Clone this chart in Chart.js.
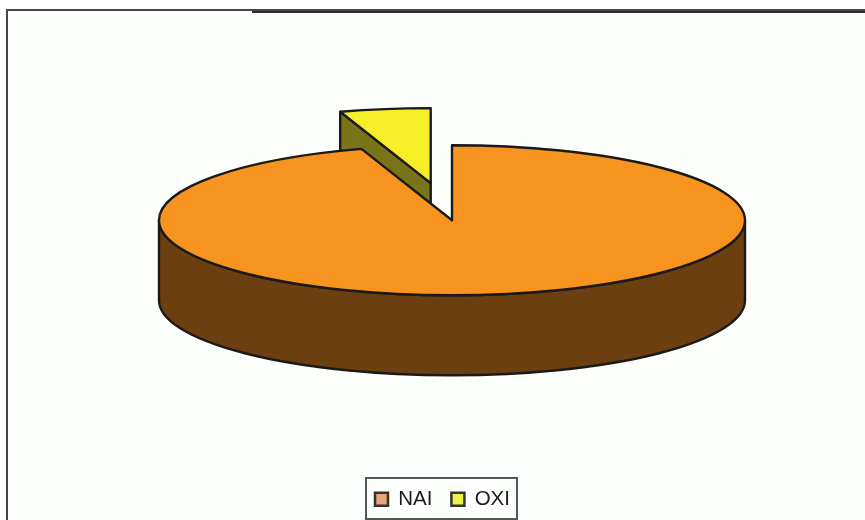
<!DOCTYPE html>
<html>
<head>
<meta charset="utf-8">
<style>html,body{margin:0;padding:0;background:#fff}canvas{display:block}</style>
<script src="https://cdn.jsdelivr.net/npm/chart.js@4/dist/chart.umd.min.js"></script>
</head>
<body>
<canvas id="c" width="865" height="520"></canvas>
<script>
const categories = ['NAI', 'OXI'];
const shares = [95, 5];
const topColors = ['#f7941f', '#f7ee2a'];
const sideColors = ['#6c3f10', '#7a7418'];
const legendColors = ['#e8a577', '#eef04c'];

const TILT = 75 / 293, DEPTH = 80, EXPLODE = [0, 136], EXPLODE_LIFT = 1.08, INK = '#1c1a18';

const pie3d = {
  id: 'pie3d',
  afterLayout(chart) {
    const l = chart.legend, p = chart.options.plugins.legend.labels.padding;
    l.left = 375 - p; l.right = 865; l.top = 489 - p; l.bottom = 519;
  },
  beforeDraw(chart) {
    const c = chart.ctx;
    c.save();
    c.fillStyle = '#fcfffc';
    c.fillRect(7, 10, 858, 510);
    c.fillStyle = '#45484a';
    c.fillRect(6, 9, 859, 2);
    c.fillRect(6, 9, 2, 511);
    c.fillStyle = '#2c2e30';
    c.fillRect(252, 11, 613, 2);
    c.restore();
  },
  beforeDatasetsDraw(chart) {
    const c = chart.ctx, arcs = chart.getDatasetMeta(0).data;
    [1, 0].forEach(i => {
      const a = arcs[i], r = a.outerRadius, ry = r * TILT;
      const s = a.startAngle, e = a.endAngle, mid = (s + e) / 2;
      const cx = a.x + Math.cos(mid) * EXPLODE[i];
      const cy = a.y + Math.sin(mid) * EXPLODE[i] * TILT * EXPLODE_LIFT;
      c.save();
      c.lineJoin = 'round';
      c.lineWidth = 2.4;
      c.strokeStyle = INK;
      c.fillStyle = sideColors[i];
      // cut face turned towards the viewer
      if (Math.cos(s) < -1e-6) {
        const fx = cx + Math.cos(s) * r, fy = cy + Math.sin(s) * ry;
        c.beginPath();
        c.moveTo(cx, cy); c.lineTo(fx, fy);
        c.lineTo(fx, fy + DEPTH); c.lineTo(cx, cy + DEPTH);
        c.closePath(); c.fill(); c.stroke();
      }
      // front rim
      const from = Math.max(s, 0), to = Math.min(e, Math.PI);
      if (to > from) {
        c.beginPath();
        c.ellipse(cx, cy, r, ry, 0, from, to);
        c.ellipse(cx, cy + DEPTH, r, ry, 0, to, from, true);
        c.closePath(); c.fill(); c.stroke();
      }
      // top face, filled by the library's arc element
      c.save();
      c.translate(cx, cy);
      c.scale(1, TILT);
      c.translate(-a.x, -a.y);
      a.draw(c);
      c.restore();
      c.beginPath();
      c.moveTo(cx, cy);
      c.ellipse(cx, cy, r, ry, 0, s, e);
      c.closePath();
      c.stroke();
      c.restore();
    });
    return false;
  },
  afterDraw(chart) {
    const c = chart.ctx;
    c.save();
    c.strokeStyle = '#55585a';
    c.lineWidth = 2;
    c.strokeRect(366, 478, 151, 41);
    c.restore();
  }
};

new Chart(document.getElementById('c'), {
  type: 'pie',
  data: {
    labels: categories,
    datasets: [{
      data: shares,
      backgroundColor: topColors,
      borderWidth: 0,
      radius: 293
    }]
  },
  plugins: [pie3d],
  options: {
    responsive: false,
    animation: false,
    devicePixelRatio: 1,
    rotation: 0,
    layout: { padding: { left: 39, bottom: 30 } },
    plugins: {
      tooltip: { enabled: false },
      title: { display: false },
      legend: {
        position: 'bottom',
        align: 'start',
        labels: {
          boxWidth: 13,
          boxHeight: 13,
          padding: 19,
          color: '#1c1c1c',
          font: { family: 'Liberation Sans', size: 20.5 },
          generateLabels(chart) {
            return categories.map((t, i) => ({
              text: t,
              index: i,
              fillStyle: legendColors[i],
              strokeStyle: '#333333',
              lineWidth: 2.5,
              fontColor: '#1c1c1c',
              hidden: false
            }));
          }
        }
      }
    }
  }
});
</script>
</body>
</html>
